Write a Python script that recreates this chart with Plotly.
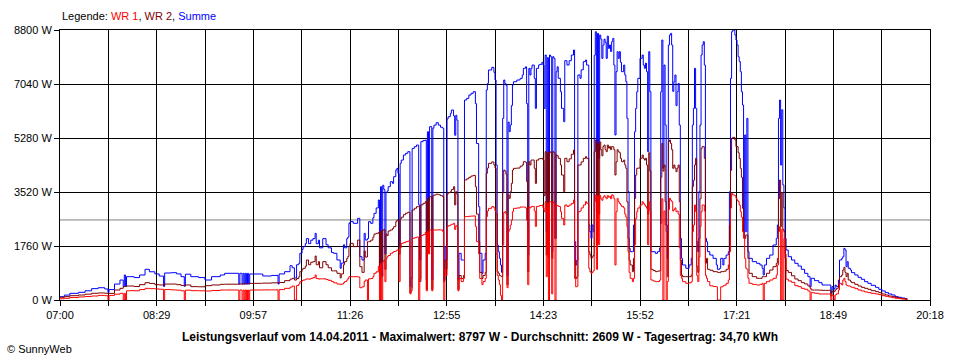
import plotly.graph_objects as go
from datetime import datetime, timedelta

datum = "2011-04-14"

zeit = [
 "07:00","07:04","07:09","07:17","07:23","07:29","07:35","07:41","07:44","07:45","07:50","07:55","07:58","07:59","08:00","08:01","08:04","08:08","08:13","08:18","08:22","08:27","08:31","08:35","08:36","08:42","08:47","08:51","08:54","08:55","09:00","09:07",
 "09:13","09:19","09:27","09:31","09:44","09:45","09:47","09:48","09:49","09:50","09:51","09:52","09:53","09:54","10:05","10:06","10:14","10:20","10:21","10:26","10:31","10:33","10:35","10:37","10:39","10:40","10:42","10:43","10:45","10:46","10:48","10:50","10:52","10:54","10:55","10:57","10:58","11:01","11:04","11:06","11:09","11:11","11:14","11:17","11:18","11:20","11:21","11:23","11:24","11:25",
 "11:26","11:29","11:33","11:35","11:37","11:39","11:40","11:42","11:43","11:45","11:47","11:48","11:50","11:52","11:53","11:54","11:55","11:56","11:57","11:58","11:59","12:00","12:01","12:03","12:05","12:06","12:08","12:09","12:10","12:11","12:12","12:13","12:15","12:17","12:19","12:21","12:22","12:23","12:25","12:27","12:29","12:30","12:31","12:33","12:35","12:36","12:37","12:38","12:39","12:41","12:42","12:43","12:45","12:47","12:49","12:51","12:52","12:53","12:54","12:55","12:56","12:58","12:59","13:01","13:02","13:03","13:04","13:05","13:06","13:08","13:10","13:11","13:13","13:15","13:17","13:19","13:21","13:22","13:24","13:25","13:27","13:28","13:30","13:31","13:32","13:33","13:36","13:38",
 "13:39","13:40","13:41","13:42","13:43","13:44","13:45","13:46","13:47","13:48","13:49","13:50","13:51","13:52","13:53","13:54","13:55","13:56","13:59","14:02","14:04","14:05","14:07","14:08","14:09","14:10","14:11","14:12","14:13","14:15","14:16","14:17","14:19","14:20","14:22","14:23","14:24","14:25","14:26","14:27","14:28","14:29","14:30","14:31","14:32","14:33","14:34","14:35","14:36","14:37","14:39","14:40","14:42","14:43","14:45","14:47","14:49","14:51","14:52","14:53","14:54","14:55","14:57","14:58","15:00","15:02","15:03","15:05","15:06","15:07","15:08","15:09","15:10","15:11","15:12","15:13","15:14","15:15","15:16","15:17","15:18","15:19","15:20","15:21","15:22","15:23","15:24","15:25","15:26","15:27","15:28","15:29","15:30","15:31","15:32","15:33","15:34","15:35","15:37","15:38","15:39","15:40","15:41","15:42","15:43","15:45","15:46","15:47","15:48","15:49","15:50","15:52","15:54",
 "15:55","15:56","15:57","15:58","15:59","16:00","16:01","16:02","16:04","16:06","16:08","16:10","16:11","16:12","16:13","16:14","16:15","16:16","16:17","16:18","16:19","16:20","16:21","16:22","16:23","16:24","16:25","16:26","16:27","16:28","16:29","16:30","16:31","16:34","16:37","16:39","16:40","16:41","16:42","16:43","16:44","16:45","16:46","16:47","16:48","16:49","16:50","16:51","16:52","16:53","16:54","16:56","16:59","17:02","17:03","17:05","17:06","17:08","17:09","17:11","17:13","17:14","17:15","17:16","17:17","17:19","17:20","17:21","17:22","17:23","17:24","17:25","17:26","17:27","17:28","17:29","17:30","17:31","17:32","17:35","17:39","17:42","17:44","17:45","17:46","17:48","17:51","17:54","17:57","17:58","17:59","18:00","18:01","18:02","18:03","18:04","18:05",
 "18:06","18:08","18:11","18:14","18:17","18:20","18:23","18:26","18:28","18:29","18:32","18:36","18:39","18:42","18:45","18:47","18:48","18:49","18:50","18:51","18:52","18:54","18:55","18:57","18:58","18:59","19:00","19:01","19:02","19:03","19:05","19:06","19:09","19:12","19:15","19:18","19:21","19:24","19:28","19:31","19:34","19:37","19:40","19:43","19:46","19:49","19:52","19:55","19:57",
]

wr1 = [
 40,55,80,100,115,130,150,140,0,150,190,218,0,220,0,300,304,300,340,380,370,360,350,0,340,330,320,300,0,320,304,300,
 293,310,326,326,0,326,0,326,0,326,0,326,0,326,326,330,330,0,340,380,420,456,0,470,520,597,630,650,674,690,680,706,730,815,700,680,690,690,670,640,600,560,521,500,520,560,600,650,700,760,
 760,760,750,400,430,600,652,0,690,700,760,870,920,1100,0,1195,0,1250,1303,600,1350,1412,1450,1521,1550,1580,1600,1630,1630,600,1700,1847,1870,1900,1920,200,300,2010,2030,2050,0,700,2100,2130,2200,300,2227,1500,2282,300,2282,2282,2280,2290,2282,2227,0,1000,800,2390,2420,2444,2470,2500,2300,2420,2400,300,700,600,700,2716,2720,2730,2735,2740,2400,1900,1500,700,500,600,700,2716,2900,2987,3042,3000,
 2900,1500,800,650,500,150,0,1800,2850,2879,2800,400,2227,2300,2444,2600,2879,2987,3000,3030,3030,3030,3000,2600,500,3030,3000,3040,3050,2900,2400,3050,3060,3080,3096,3000,2879,3205,760,3150,0,3205,3200,200,3200,3150,0,3096,3080,3050,2879,2661,2444,3096,3050,3096,3150,3260,700,430,450,2879,2900,3000,3096,3205,3150,1033,924,869,900,950,3205,3422,1000,3400,1800,3400,3300,3250,3350,3400,3350,3300,3400,3350,3380,3300,3430,3400,3300,1141,2879,3313,3205,3150,3096,3050,3000,2800,2700,2400,1575,900,706,598,706,1800,2661,2879,3000,3096,3205,
 3150,3096,3050,2987,1800,3200,2900,652,620,598,600,652,2500,3300,0,2900,2444,0,600,2950,3313,3250,3205,2900,2950,3000,2879,2900,2800,1700,800,706,598,543,560,598,2227,2444,3096,2879,800,600,1400,2400,2879,3096,3096,2900,800,706,600,462,440,430,0,0,430,462,480,543,652,1575,3000,3476,3422,3400,3313,3250,3205,3096,2879,2700,2227,2009,1358,1033,1000,706,543,510,489,510,543,0,543,598,652,706,815,1141,2227,2390,0,2300,0,2000,1500,
 680,620,576,467,435,380,348,294,0,239,220,196,196,196,196,0,163,150,0,163,200,326,543,489,652,706,600,489,470,456,435,413,370,326,294,261,239,217,196,174,141,120,98,76,54,43,33,22,11,
]

wr2 = [
 88,110,140,163,190,218,230,220,200,215,326,380,430,440,440,456,456,440,500,565,540,500,490,480,520,520,500,470,460,490,435,430,
 467,490,510,515,520,520,520,520,520,525,525,530,530,543,543,550,560,560,570,630,680,706,650,700,760,923,1000,1033,1100,1304,1150,1230,1250,1434,1150,1250,1050,1250,1150,1050,950,950,870,720,850,1150,1250,1350,1420,1750,
 1847,1740,1955,1086,900,1600,1400,1900,1900,1950,2050,2150,2172,2200,870,2250,760,2280,2300,1000,2150,2100,2250,2282,2330,2390,2550,2607,2600,1500,2640,2700,2780,2830,2860,240,400,2933,2990,3042,3050,600,3100,3150,3205,350,3300,1700,3367,350,3400,3422,3450,3430,3400,3367,600,1300,1000,3450,3500,3530,3600,3693,3100,3530,3450,350,800,700,800,3910,3950,4000,4041,4060,3693,2800,1900,900,700,800,900,4128,4300,4454,4500,4400,
 4300,2800,924,870,800,780,760,3500,4236,4200,4100,500,3422,3313,3531,3800,4236,4291,4300,4360,4400,4508,4490,3857,924,4508,4400,4560,4562,4291,3800,4560,4600,4610,4617,4560,3400,4834,1466,4800,1466,4834,4800,1358,4834,4800,2000,4730,4700,4617,4400,4074,3531,4617,4508,4600,4750,4888,1300,700,760,4400,4400,4500,4617,4670,4617,1575,1466,1358,1400,1450,4834,5215,1800,5100,2800,5150,4900,4700,5000,5050,4900,4834,5050,4950,5000,4900,5000,4990,4900,4074,4500,4900,4834,4800,4617,4508,4560,4400,4291,3200,2009,1300,1141,924,1358,3313,4074,4291,4300,4617,4725,
 4617,4560,4617,4400,2800,4800,4200,1000,960,924,940,960,4000,5106,4200,4400,3205,2227,760,5160,5215,5100,4900,4291,4400,4300,4182,4300,4400,3205,1300,815,760,760,760,815,3700,3900,4400,4617,1100,900,2000,3300,4943,5000,5000,4617,1200,1358,1000,970,924,924,900,890,924,924,940,1000,1141,2444,4224,5269,5300,5215,5000,5000,4800,4617,4291,4000,2987,2227,2009,2118,2118,1358,870,760,706,706,760,760,760,870,978,1087,1195,1358,3300,3911,2400,3500,2300,2227,1358,
 960,900,790,685,630,565,522,456,380,326,326,320,315,315,315,130,290,260,280,326,380,489,761,815,978,1065,900,761,870,652,600,565,510,456,413,380,348,304,272,239,196,163,130,109,87,65,43,33,11,
]

summe = [
 108,160,217,250,300,370,400,360,250,340,520,650,440,815,450,760,760,730,815,1000,920,850,780,440,880,890,850,760,450,840,760,730,
 652,760,815,870,520,870,520,870,520,870,520,870,520,847,847,782,800,520,850,923,1118,1050,717,1150,1195,1522,1650,1738,1836,2000,1836,1950,2000,2173,1836,1950,1700,2000,1800,1700,1550,1521,1304,1033,1200,1800,1700,2000,2050,2500,
 2553,2500,2662,1412,1303,2172,1955,2000,2553,2500,2680,2824,3000,3260,870,3693,800,3740,3600,1500,3500,3550,3693,3856,3800,4020,4236,4290,4128,1738,4454,4560,4725,4780,4834,440,717,4940,4997,5050,3100,1303,5160,5200,5214,652,5485,3259,5649,652,5600,5700,5779,5700,5630,5600,652,1738,1303,5900,5974,6083,6192,6000,5370,6020,5860,652,1521,1303,1303,6518,6572,6680,6735,6790,6400,5100,3042,1521,869,1303,1521,6844,7061,7496,7582,7420,
 7170,4400,1792,1575,1358,1141,900,5920,7170,7060,7000,800,5800,5486,5703,6336,7007,7115,7170,7224,7333,7550,7600,6400,1466,7550,7333,7550,7658,7224,6246,7550,7658,7680,7745,7658,6246,7985,2227,7900,1400,7985,7930,1575,7930,7876,2009,7440,7600,7224,6789,6246,5811,7800,7658,7800,7985,8148,1900,1141,1300,7333,7224,7500,7770,7822,7658,2444,2227,2009,2444,2227,7976,8745,2879,8690,4617,8636,8500,7876,8310,8500,8400,7876,8600,8200,8310,8100,8419,8527,7658,5378,7441,8093,7876,8093,7750,7441,7658,7333,7115,5920,3531,1680,1575,1575,2444,5486,6246,6789,7224,7876,7985,
 7658,7550,7720,7441,4834,8093,6789,1575,1575,1520,1575,1700,6789,8473,4300,7658,5703,2444,1358,8310,8636,8690,8310,6800,7115,7333,6336,6789,7060,5703,2009,1358,1141,1033,1141,1358,5703,6246,7550,6246,1900,1575,3531,5703,7985,8310,8419,7658,2009,1900,1575,1466,1358,1141,1000,1033,1358,1141,1358,1466,1575,3531,7224,8745,8797,8636,8473,8310,7930,7770,7441,6789,6355,2227,5378,2227,5920,1575,1358,1250,1195,1141,1033,815,1141,1358,1466,1792,2009,2444,5920,6518,4400,6200,3750,3000,2009,
 1630,1412,1304,1195,1108,1000,869,761,435,707,630,565,489,489,489,217,435,326,380,489,435,652,1304,1359,1412,1684,1630,1087,1250,1033,978,891,815,739,674,598,543,478,413,348,294,239,196,163,109,87,65,43,22,
]

durchschnitt = 2609
y_ticks = [0, 1760, 3520, 5280, 7040, 8800]
x_tick_labels = ["07:00", "08:29", "09:57", "11:26", "12:55", "14:23", "15:52", "17:21", "18:49", "20:18"]
legende = [("WR 1", "#ff0000"), ("WR 2", "#800000"), ("Summe", "#0000ff")]
titel = "Leistungsverlauf vom 14.04.2011 - Maximalwert: 8797 W - Durchschnitt: 2609 W - Tagesertrag: 34,70 kWh"

x = [f"{datum} {t}" for t in zeit]

start = datetime(2011, 4, 14, 7, 0)
end = datetime(2011, 4, 14, 20, 18)
n_grid = 18
step = (end - start) / n_grid
tickvals = [(start + step * k).strftime("%Y-%m-%d %H:%M:%S") for k in range(n_grid + 1)]
ticktext = []
for k in range(n_grid + 1):
    ticktext.append(x_tick_labels[k // 2] if k % 2 == 0 else "")

FONT = "Liberation Sans, Arial, sans-serif"

fig = go.Figure()
for name, series, color in [("Summe", summe, "#0000ff"), ("WR 2", wr2, "#800000"), ("WR 1", wr1, "#ff0000")]:
    fig.add_trace(go.Scatter(x=x, y=series, mode="lines", name=name,
                             line=dict(color=color, width=1, shape="hv"),
                             showlegend=False, hoverinfo="skip"))

fig.add_shape(type="line", xref="paper", x0=0, x1=1, yref="y", y0=durchschnitt, y1=durchschnitt,
              line=dict(color="#808080", width=1), layer="below")

leg_text = "Legende: " + ", ".join(f'<span style="color:{c}">{n}</span>' for n, c in legende)
fig.add_annotation(text=leg_text, xref="paper", yref="paper", x=0, y=(300 - 16) / 270,
                   xanchor="left", yanchor="middle", showarrow=False,
                   font=dict(family=FONT, size=11, color="black"))
fig.add_annotation(text=f"<b>{titel}</b>", xref="paper", yref="paper", x=(480 - 60) / 870, y=(300 - 337) / 270,
                   xanchor="center", yanchor="middle", showarrow=False,
                   font=dict(family=FONT, size=12, color="black"))
fig.add_annotation(text="© SunnyWeb", xref="paper", yref="paper", x=(5 - 60) / 870, y=(300 - 349) / 270,
                   xanchor="left", yanchor="middle", showarrow=False,
                   font=dict(family=FONT, size=11, color="black"))

fig.update_layout(
    width=960, height=360,
    margin=dict(l=60, r=30, t=30, b=60),
    paper_bgcolor="white", plot_bgcolor="white",
    font=dict(family=FONT, size=11, color="black"),
    xaxis=dict(type="date", range=[start.strftime("%Y-%m-%d %H:%M:%S"), end.strftime("%Y-%m-%d %H:%M:%S")],
               tickmode="array", tickvals=tickvals, ticktext=ticktext,
               showgrid=True, gridcolor="black", gridwidth=1,
               showline=True, linecolor="black", linewidth=1, mirror=True,
               ticks="outside", ticklen=5, tickcolor="black", zeroline=False,
               tickfont=dict(family=FONT, size=11, color="black")),
    yaxis=dict(range=[0, 8800], tickmode="array", tickvals=y_ticks,
               ticktext=[f"{v} W" for v in y_ticks],
               showgrid=True, gridcolor="black", gridwidth=1,
               showline=True, linecolor="black", linewidth=1, mirror=True,
               ticks="outside", ticklen=5, tickcolor="black", zeroline=False,
               tickfont=dict(family=FONT, size=11, color="black")),
)

fig.write_html("out.html", config={"displayModeBar": False},
               post_script="document.body.style.margin='0';document.body.style.overflow='hidden';")
